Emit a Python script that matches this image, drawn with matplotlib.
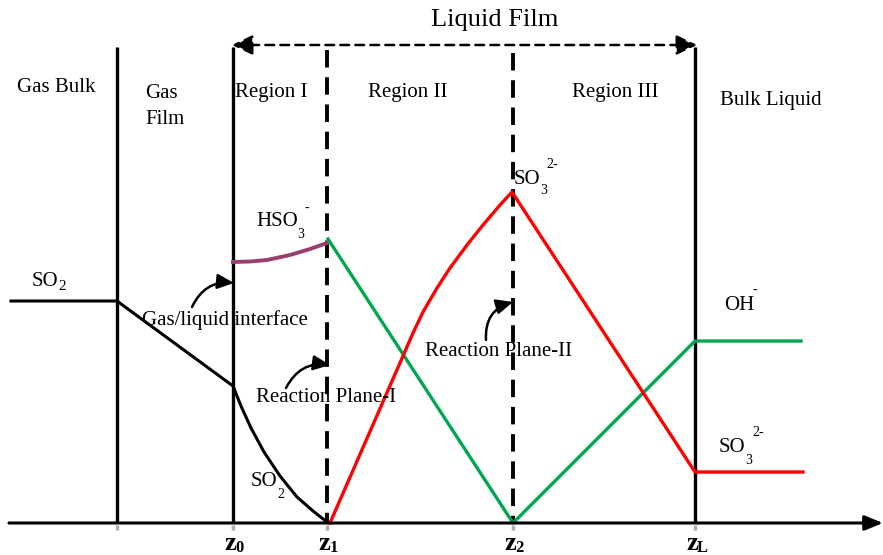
import matplotlib
matplotlib.use('Agg')
import matplotlib.pyplot as plt

plt.rcParams['font.family'] = ['Liberation Serif', 'DejaVu Serif']

# positions in picture units (x to the right, y downward)
axis_y = 523
top_y = 47
solid_x = [117, 233, 695]
dashed_x = [327, 513]
z_subs = ['0', '1', '2', 'L']
z_x = [233, 327, 513, 695]

# concentration profiles
so2_x = [11, 117, 233, 241, 251, 264, 280, 297, 313, 327]
so2_y = [301, 301, 386, 406, 428, 452, 476, 497, 511, 522]
hso3_x = [233, 250, 267, 290, 310, 327]
hso3_y = [262, 261.5, 260, 255, 249, 243]
oh_x = [328, 513, 695, 801]
oh_y = [239, 523, 341, 341]
so3_x = [330, 403, 413, 423, 437, 450, 467, 483, 500, 512, 695, 803]
so3_y = [523, 356, 333, 312, 288, 268, 245, 225, 205, 192, 472, 472]

region_labels = ['Gas Bulk', 'Gas\nFilm', 'Region I', 'Region II', 'Region III', 'Bulk Liquid']
region_x = [17, 145, 235, 368, 572, 720]
region_y = [87, 107, 93, 93, 93, 100]

fig = plt.figure(figsize=(8.83, 5.55), dpi=100)
ax = fig.add_axes([0, 0, 1, 1])
ax.set_xlim(0, 883)
ax.set_ylim(555, 0)
ax.axis('off')


def chem(x, y, base, sub='', sup='', sub_y=None, sup_y=None, sub_dx=0, sup_dx=-0.5,
         size=15, small=10):
    t = ax.text(x, y, base, fontsize=size, ha='left', va='center')
    anchor = t
    if sub:
        anchor = ax.annotate(sub, xy=(1, sub_y), xycoords=(t, 'data'), xytext=(sub_dx, 0),
                             textcoords='offset points', fontsize=small, ha='left', va='center')
    if sup:
        ax.annotate(sup, xy=(1, sup_y), xycoords=(anchor, 'data'), xytext=(sup_dx, 0),
                    textcoords='offset points', fontsize=small, ha='left', va='center')


# bottom axis with arrow
ax.annotate('', xy=(883, axis_y), xytext=(9, axis_y), annotation_clip=False,
            arrowprops=dict(arrowstyle='-|>,head_length=1.1,head_width=0.45', color='black',
                            lw=2.2, shrinkA=0, shrinkB=0))
for x in z_x + [117]:
    ax.plot([x, x], [axis_y + 2, axis_y + 7], color='#b0b0b0', lw=2.5, solid_capstyle='butt')

for x in solid_x:
    ax.plot([x, x], [top_y, axis_y], color='black', lw=2.4, solid_capstyle='butt')
ax.plot([dashed_x[0]] * 2, [top_y + 3, axis_y], color='black', lw=2.8, dashes=(4.5, 2.5))
ax.plot([dashed_x[1]] * 2, [top_y + 6, axis_y], color='black', lw=2.8, dashes=(4.5, 2.5))

# liquid film double arrow
ax.annotate('', xy=(232, 45), xytext=(697, 45), annotation_clip=False,
            arrowprops=dict(arrowstyle='<|-|>,head_length=1.25,head_width=0.6', color='black',
                            lw=1.8, linestyle=(0, (3.5, 2.5)), shrinkA=0, shrinkB=0))
ax.text(495, 20, 'Liquid Film', fontsize=19, ha='center', va='center')

for lab, x, y in zip(region_labels, region_x, region_y):
    ax.text(x, y, lab, fontsize=15, ha='left', va='center', linespacing=1.5)

# profiles
ax.plot(so2_x, so2_y, color='black', lw=2.2)
ax.plot(hso3_x, hso3_y, color='#993f6e', lw=2.8)
ax.plot(oh_x, oh_y, color='#00a650', lw=2.4)
ax.plot(so3_x, so3_y, color='#ff0000', lw=2.4)

chem(32, 281, 'SO', '2', sub_y=287, small=11)
chem(256, 222, 'HSO', '3', '-', sub_y=234, sup_y=208, sup_dx=0)
chem(514, 180, 'SO', '3', '2-', sub_y=190, sup_y=165)
chem(724, 305, 'OH', sup='-', sup_y=290, sup_dx=-1)
chem(719, 448, 'SO', '3', '2-', sub_y=460, sup_y=433, sup_dx=0)
chem(251, 482, 'SO', '2', sub_y=494, sub_dx=0)

# annotations with curved arrows
arrow_props = dict(arrowstyle='-|>,head_length=1.0,head_width=0.45', color='black',
                   lw=1.8, shrinkA=0, shrinkB=0)
ax.text(142, 320, 'Gas/liquid interface', fontsize=15, ha='left', va='center')
ax.annotate('', xy=(234, 283), xytext=(192, 307),
            arrowprops=dict(arrow_props, connectionstyle='arc3,rad=-0.35'))
ax.text(256, 398, 'Reaction Plane-I', fontsize=15, ha='left', va='center')
ax.annotate('', xy=(330, 365), xytext=(286, 388),
            arrowprops=dict(arrow_props, connectionstyle='arc3,rad=-0.35'))
ax.text(425, 351, 'Reaction Plane-II', fontsize=15, ha='left', va='center')
ax.annotate('', xy=(513, 302), xytext=(486, 340),
            arrowprops=dict(arrow_props, connectionstyle='arc3,rad=-0.4'))

for sub, x in zip(z_subs, z_x):
    t = ax.text(x - 3, 543, 'z', fontsize=19, fontweight='bold', ha='center', va='center')
    ax.annotate(sub, xy=(1, 548), xycoords=(t, 'data'), xytext=(-0.5, 0),
                textcoords='offset points', fontsize=12, fontweight='bold', ha='left', va='center')

fig.savefig('out.png', dpi=100)
